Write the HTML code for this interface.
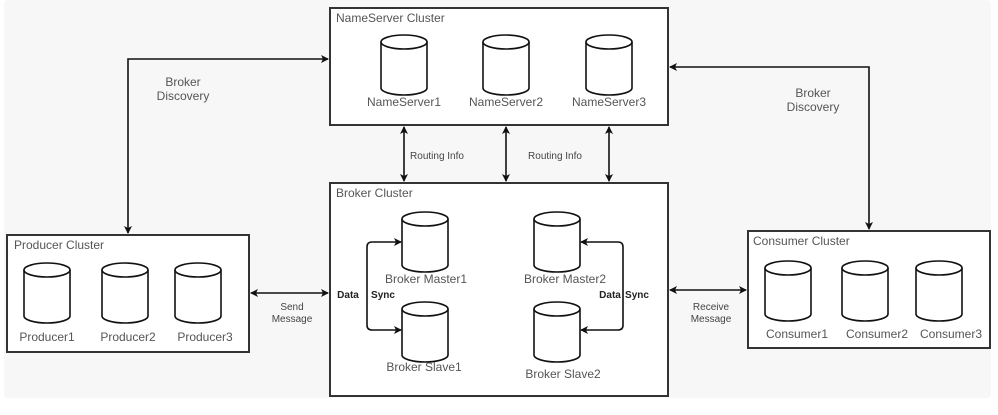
<!DOCTYPE html>
<html><head><meta charset="utf-8"><style>
html,body{margin:0;padding:0;background:#fff;}
svg{display:block;}
text{font-family:"Liberation Sans",sans-serif;}
</style></head><body>
<svg width="998" height="415" viewBox="0 0 998 415" xmlns="http://www.w3.org/2000/svg">
<defs>
<marker id="a" markerWidth="8" markerHeight="8" refX="7" refY="4" orient="auto-start-reverse" markerUnits="userSpaceOnUse">
<path d="M0,0 L8,4 L0,8 L2,4 z" fill="#111"/></marker>
<g id="cyl">
<path d="M-23,0 L-23,46 A23,7 0 0 0 23,46 L23,0" fill="#fff" stroke="#111" stroke-width="1.6"/>
<ellipse cx="0" cy="0" rx="23" ry="7" fill="#fff" stroke="#111" stroke-width="1.6"/>
</g>
</defs>
<rect x="4" y="0" width="987" height="398" rx="4" fill="#f7f7f7"/>
<g fill="#fff" stroke="#333" stroke-width="2">
<rect x="330" y="8" width="338" height="117"/>
<rect x="330" y="183" width="338" height="213"/>
<rect x="7" y="235" width="242" height="117"/>
<rect x="748" y="231" width="242" height="117"/>
</g>
<g font-size="12" fill="#555">
<text x="336" y="22">NameServer Cluster</text>
<text x="336" y="197">Broker Cluster</text>
<text x="14" y="249">Producer Cluster</text>
<text x="753" y="245">Consumer Cluster</text>
</g>
<use href="#cyl" x="404" y="42"/><use href="#cyl" x="506" y="42"/><use href="#cyl" x="609" y="42"/>
<use href="#cyl" x="425" y="219"/><use href="#cyl" x="425" y="309"/>
<use href="#cyl" x="557" y="219"/><use href="#cyl" x="557" y="309"/>
<use href="#cyl" x="47" y="270"/><use href="#cyl" x="125" y="270"/><use href="#cyl" x="198" y="270"/>
<use href="#cyl" x="788" y="268"/><use href="#cyl" x="865" y="268"/><use href="#cyl" x="939" y="268"/>
<g font-size="12" fill="#555" text-anchor="middle">
<text x="404" y="106">NameServer1</text><text x="506" y="106">NameServer2</text><text x="609" y="106">NameServer3</text>
<text x="426" y="283">Broker Master1</text><text x="424" y="371">Broker Slave1</text>
<text x="565" y="283">Broker Master2</text><text x="563" y="378">Broker Slave2</text>
<text x="47" y="341">Producer1</text><text x="128" y="341">Producer2</text><text x="205" y="341">Producer3</text>
<text x="797" y="338">Consumer1</text><text x="877" y="338">Consumer2</text><text x="951" y="338">Consumer3</text>
<text x="183" y="86">Broker</text><text x="183" y="100">Discovery</text>
<text x="813" y="97">Broker</text><text x="813" y="111">Discovery</text>
</g>
<g font-size="10" fill="#444" text-anchor="middle">
<text x="437" y="159">Routing Info</text><text x="555" y="159">Routing Info</text>
<text x="292" y="310">Send</text><text x="292" y="322">Message</text>
<text x="711" y="310">Receive</text><text x="711" y="322">Message</text>
</g>
<g font-size="10" font-weight="bold" fill="#222" text-anchor="middle">
<text x="348" y="298">Data</text><text x="383" y="298">Sync</text>
<text x="610" y="298">Data</text><text x="637" y="298">Sync</text>
</g>
<g fill="none" stroke="#111" stroke-width="1.6">
<path d="M128,233 L128,59 L328,59" marker-start="url(#a)" marker-end="url(#a)"/>
<path d="M670,67 L869,67 L869,229" marker-start="url(#a)" marker-end="url(#a)"/>
<path d="M404,127 L404,181" marker-start="url(#a)" marker-end="url(#a)"/>
<path d="M506,127 L506,181" marker-start="url(#a)" marker-end="url(#a)"/>
<path d="M609,127 L609,181" marker-start="url(#a)" marker-end="url(#a)"/>
<path d="M251,293 L328,293" marker-start="url(#a)" marker-end="url(#a)"/>
<path d="M670,290 L746,290" marker-start="url(#a)" marker-end="url(#a)"/>
<path d="M401,242 L372,242 Q367,242 367,247 L367,325 Q367,330 372,330 L401,330" marker-start="url(#a)" marker-end="url(#a)"/>
<path d="M581,242 L618,242 Q623,242 623,247 L623,325 Q623,330 618,330 L581,330" marker-start="url(#a)" marker-end="url(#a)"/>
</g>
</svg>
</body></html>
